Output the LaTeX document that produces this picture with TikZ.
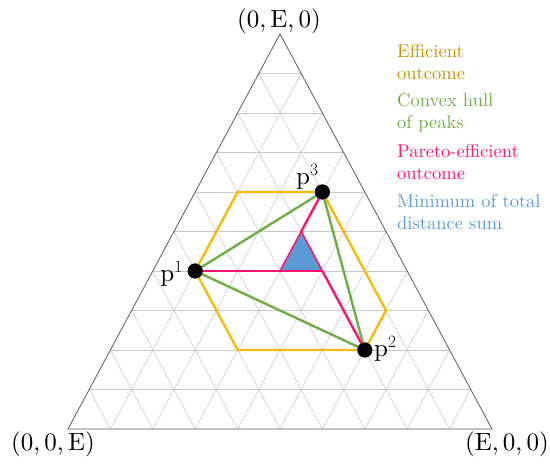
\documentclass[tikz,border=0pt]{standalone}
\usepackage{amsmath}
\usepackage{fontspec}
\newfontfamily\tenrm{lmroman10-regular.otf}
\definecolor{effY}{RGB}{247,186,10}
\definecolor{effT}{RGB}{196,148,0}
\definecolor{hullG}{RGB}{112,173,71}
\definecolor{parP}{RGB}{255,20,112}
\definecolor{minB}{RGB}{91,155,213}
\definecolor{gridG}{RGB}{200,200,200}
\definecolor{edgeG}{RGB}{90,90,90}
\tikzset{
  gridline/.style={draw=gridG, line width=0.6pt},
  edgeline/.style={draw=edgeG, line width=0.8pt, line join=miter},
  effline/.style={draw=effY, line width=2.4pt, line join=round},
  hullline/.style={draw=hullG, line width=2.4pt, line join=round},
  parline/.style={draw=parP, line width=2.4pt, line cap=round},
  minfill/.style={fill=minB, draw=parP, line width=1.6pt, line join=round},
  peak/.style={circle, fill=black, inner sep=0pt, minimum size=15pt},
  plabel/.style={font=\tenrm\fontsize{25}{28}\selectfont, inner sep=0pt},
  corner/.style={font=\tenrm\fontsize{25}{28}\selectfont, inner sep=0pt},
  legend/.style={font=\tenrm\fontsize{18.5}{22}\selectfont, align=left, inner sep=0pt, anchor=base west},
}
\begin{document}
\begin{tikzpicture}[x=1pt,y=1pt]
\useasboundingbox (0,0) rectangle (550,465);
\begin{scope}[shift={(68,36)}, x={(42.4pt,0pt)}, y={(21.2pt,39.5pt)}]
  \coordinate (L) at (0,0);
  \coordinate (R) at (10,0);
  \coordinate (T) at (0,10);
  % grid
  \foreach \i in {1,...,9}{
    \pgfmathtruncatemacro{\j}{10-\i}
    \draw[gridline] (0,\i) -- (\j,\i);
    \draw[gridline] (\i,0) -- (\i,\j);
    \draw[gridline] (\j,0) -- (0,\j);
  }
  \draw[edgeline] (L) -- (R) -- (T) -- cycle;
  % hexagon vertices
  \coordinate (h1) at (1,6);
  \coordinate (h2) at (3,6);
  \coordinate (h3) at (6,3);
  \coordinate (h4) at (6,2);
  \coordinate (h5) at (3,2);
  \coordinate (h6) at (1,4);
  % Pareto / minimum points
  \coordinate (m1) at (3,4);
  \coordinate (m2) at (4,4);
  \coordinate (m3) at (3,5);
  \node[peak] (p1) at (1,4) {};
  \node[peak] (p2) at (6,2) {};
  \node[peak] (p3) at (3,6) {};
\end{scope}
\draw[effline] (h1) -- (h2) -- (h3) -- (h4) -- (h5) -- (h6) -- cycle;
\draw[hullline] (p1.center) -- (p3.center) -- (p2.center) -- cycle;
\draw[minfill] (m1) -- (m2) -- (m3) -- cycle;
\draw[parline] (p1.center) -- (m1);
\draw[parline] (p3.center) -- (m3);
\draw[parline] (m2) -- (p2.center);
\node[peak] at (p1) {};
\node[peak] at (p2) {};
\node[peak] at (p3) {};
\node[plabel, anchor=base east] (lp1) at (183,183) {p$^1$};
\node[plabel, anchor=base west] (lp2) at (374,108) {p$^2$};
\node[plabel, anchor=base west] (lp3) at (296,280) {p$^3$};
\node[corner, anchor=base] (cT) at (279,437) {(0,\,E,\,0)};
\node[corner, anchor=base] (cL) at (53,14) {(0,\,0,\,E)};
\node[corner, anchor=base] (cR) at (507,14) {(E,\,0,\,0)};
\node[legend, text=effT] (lg1) at (397,385) {Efficient\\outcome};
\node[legend, text=hullG] (lg2) at (397,336) {Convex hull\\of peaks};
\node[legend, text=parP] (lg3) at (397,285) {Pareto-efficient\\outcome};
\node[legend, text=minB] (lg4) at (397,235) {Minimum of total\\distance sum};
\end{tikzpicture}
\end{document}
